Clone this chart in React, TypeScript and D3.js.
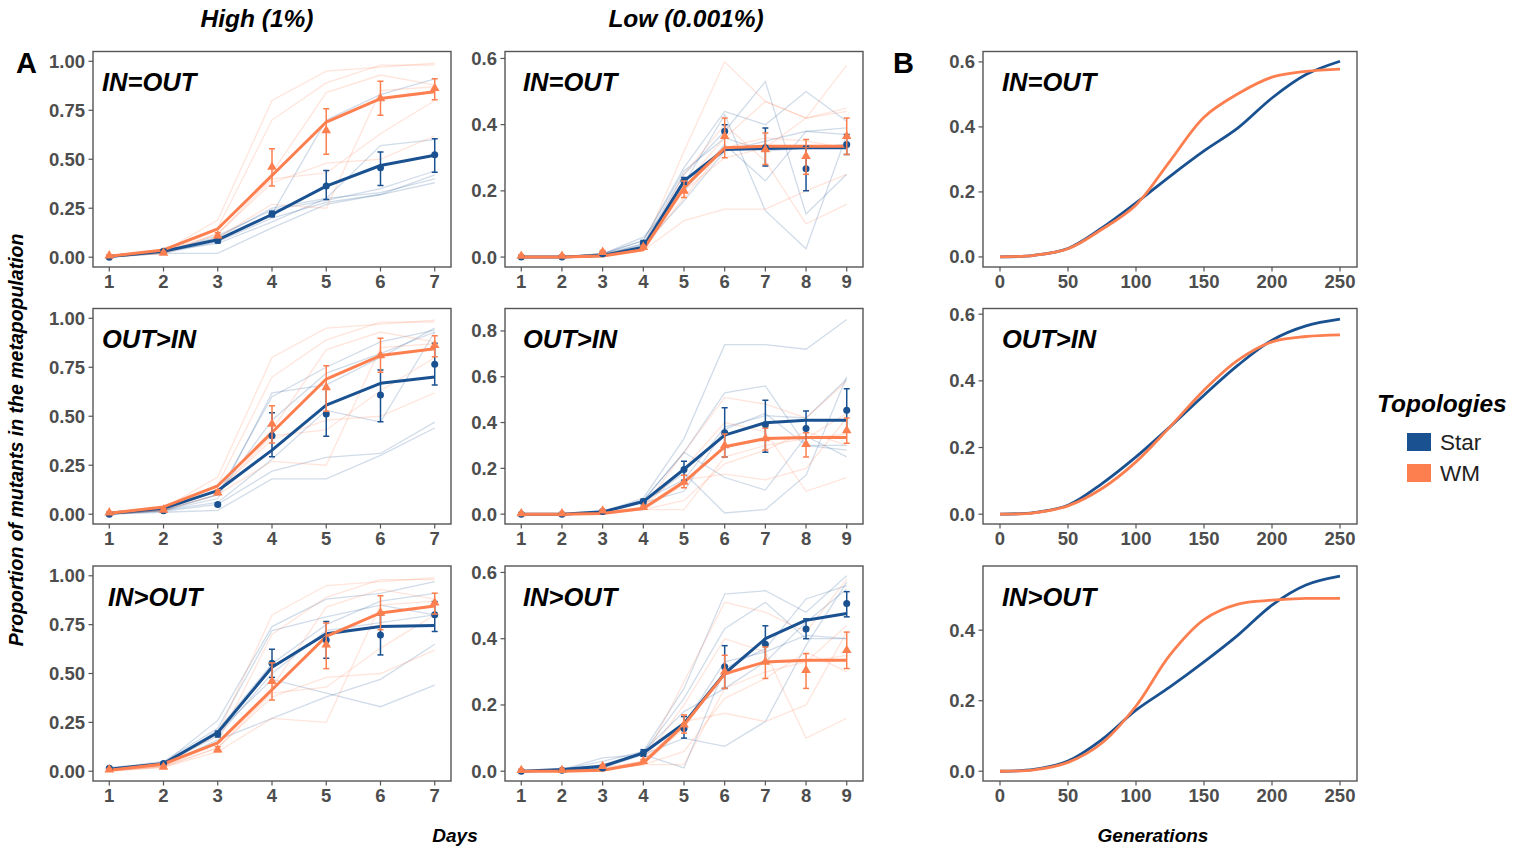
import React from 'react';
import * as d3 from 'd3';

// ---------- DATA ----------
const highDays = [1, 2, 3, 4, 5, 6, 7];
const lowDays = [1, 2, 3, 4, 5, 6, 7, 8, 9];
const generations = [0, 25, 50, 75, 100, 125, 150, 175, 200, 225, 250];

const columnTitles = ['High (1%)', 'Low (0.001%)'];
const rowLabels = ['IN=OUT', 'OUT>IN', 'IN>OUT'];
const legendLabels = ['Star', 'WM'];
const highTicksY = [0, 0.25, 0.5, 0.75, 1];
const genTicksX = [0, 50, 100, 150, 200, 250];

// High (1%) – WM (same in every row)
const highWmFit = [0.005, 0.037, 0.145, 0.417, 0.69, 0.81, 0.845];
const highWmMean = [0.008, 0.022, 0.11, 0.46, 0.647, 0.81, 0.862];
const highWmLo = [0.003, 0.015, 0.1, 0.364, 0.525, 0.724, 0.804];
const highWmHi = [0.013, 0.029, 0.125, 0.554, 0.758, 0.898, 0.911];
const highWmReps = [
  [0.01, 0.03, 0.19, 0.8, 0.95, 0.97, 0.99],
  [0.0, 0.03, 0.15, 0.7, 0.89, 0.98, 0.98],
  [0.005, 0.025, 0.14, 0.43, 0.84, 0.93, 0.88],
  [0.0, 0.02, 0.12, 0.38, 0.48, 0.5, 0.62],
  [0.005, 0.02, 0.1, 0.27, 0.25, 0.85, 0.87],
  [0.0, 0.025, 0.12, 0.4, 0.43, 0.63, 0.8],
];

// High – Star
const highStarFit1 = [0.003, 0.03, 0.089, 0.218, 0.363, 0.468, 0.52];
const highStarMean1 = [0.0, 0.03, 0.085, 0.22, 0.363, 0.457, 0.523];
const highStarLo1 = [0.0, 0.025, 0.072, 0.207, 0.295, 0.366, 0.434];
const highStarHi1 = [0.004, 0.035, 0.098, 0.235, 0.443, 0.537, 0.605];
const highStarReps1 = [
  [0.0, 0.02, 0.02, 0.15, 0.27, 0.32, 0.38],
  [0.005, 0.03, 0.09, 0.22, 0.7, 0.83, 0.91],
  [0.0, 0.03, 0.1, 0.25, 0.3, 0.57, 0.6],
  [0.0, 0.02, 0.08, 0.2, 0.28, 0.32, 0.42],
  [0.005, 0.03, 0.07, 0.18, 0.3, 0.33, 0.4],
  [0.0, 0.025, 0.11, 0.24, 0.29, 0.35, 0.44],
];

const highStarFit2 = [0.005, 0.03, 0.12, 0.327, 0.557, 0.668, 0.7];
const highStarMean2 = [0.0, 0.017, 0.049, 0.4, 0.511, 0.608, 0.765];
const highStarLo2 = [0.0, 0.012, 0.04, 0.293, 0.398, 0.472, 0.66];
const highStarHi2 = [0.004, 0.022, 0.058, 0.518, 0.642, 0.736, 0.872];
const highStarReps2 = [
  [0.0, 0.02, 0.08, 0.62, 0.66, 0.8, 0.95],
  [0.0, 0.02, 0.1, 0.6, 0.75, 0.88, 0.94],
  [0.0, 0.01, 0.02, 0.18, 0.18, 0.3, 0.44],
  [0.0, 0.015, 0.05, 0.22, 0.29, 0.31, 0.47],
  [0.0, 0.02, 0.06, 0.28, 0.53, 0.47, 0.93],
  [0.0, 0.02, 0.1, 0.48, 0.72, 0.82, 0.93],
];

const highStarFit3 = [0.01, 0.039, 0.198, 0.532, 0.703, 0.74, 0.745];
const highStarMean3 = [0.015, 0.04, 0.19, 0.552, 0.672, 0.697, 0.8];
const highStarLo3 = [0.01, 0.035, 0.175, 0.48, 0.578, 0.595, 0.715];
const highStarHi3 = [0.02, 0.045, 0.205, 0.624, 0.766, 0.8, 0.868];
const highStarReps3 = [
  [0.01, 0.04, 0.26, 0.74, 0.88, 0.91, 0.97],
  [0.015, 0.05, 0.22, 0.72, 0.79, 0.85, 0.8],
  [0.01, 0.035, 0.21, 0.55, 0.75, 0.87, 0.91],
  [0.02, 0.04, 0.2, 0.47, 0.4, 0.33, 0.44],
  [0.01, 0.03, 0.16, 0.27, 0.38, 0.47, 0.65],
  [0.015, 0.04, 0.18, 0.5, 0.72, 0.76, 0.8],
];

// Low (0.001%) – WM
const lowWmFit1 = [0.0, 0.0, 0.003, 0.022, 0.21, 0.33, 0.335, 0.335, 0.335];
const lowWmMean1 = [0.003, 0.003, 0.015, 0.03, 0.2, 0.365, 0.325, 0.305, 0.365];
const lowWmLo1 = [0.0, 0.0, 0.01, 0.025, 0.18, 0.3, 0.28, 0.25, 0.31];
const lowWmHi1 = [0.006, 0.006, 0.02, 0.035, 0.23, 0.42, 0.375, 0.355, 0.42];
const lowWmReps1 = [
  [0.0, 0.0, 0.01, 0.03, 0.32, 0.59, 0.47, 0.42, 0.58],
  [0.0, 0.0, 0.005, 0.02, 0.11, 0.145, 0.145, 0.2, 0.25],
  [0.0, 0.0, 0.005, 0.025, 0.25, 0.4, 0.29, 0.1, 0.16],
  [0.0, 0.0, 0.005, 0.03, 0.22, 0.36, 0.47, 0.42, 0.44],
  [0.0, 0.0, 0.003, 0.02, 0.2, 0.3, 0.33, 0.42, 0.45],
  [0.0, 0.0, 0.005, 0.025, 0.18, 0.33, 0.36, 0.35, 0.33],
];

const lowWmFit = [0.0, 0.0, 0.003, 0.025, 0.14, 0.294, 0.33, 0.335, 0.335];
const lowWmMean = [0.003, 0.003, 0.015, 0.03, 0.14, 0.3, 0.33, 0.305, 0.365];
const lowWmLo = [0.0, 0.0, 0.01, 0.025, 0.115, 0.25, 0.28, 0.25, 0.31];
const lowWmHi = [0.006, 0.006, 0.02, 0.035, 0.17, 0.35, 0.375, 0.355, 0.42];
const lowWmReps = [
  [0.0, 0.0, 0.01, 0.03, 0.27, 0.51, 0.48, 0.42, 0.58],
  [0.0, 0.0, 0.005, 0.02, 0.02, 0.25, 0.3, 0.33, 0.44],
  [0.0, 0.0, 0.005, 0.03, 0.15, 0.175, 0.15, 0.2, 0.42],
  [0.0, 0.0, 0.005, 0.03, 0.2, 0.4, 0.36, 0.1, 0.16],
  [0.0, 0.0, 0.003, 0.02, 0.13, 0.3, 0.33, 0.33, 0.35],
  [0.0, 0.0, 0.005, 0.02, 0.06, 0.22, 0.28, 0.36, 0.3],
];

// Low – Star
const lowStarFit1 = [0.0, 0.0, 0.005, 0.03, 0.23, 0.325, 0.328, 0.33, 0.33];
const lowStarMean1 = [0.0, 0.0, 0.01, 0.042, 0.23, 0.38, 0.33, 0.267, 0.34];
const lowStarLo1 = [0.0, 0.0, 0.005, 0.035, 0.22, 0.36, 0.275, 0.2, 0.31];
const lowStarHi1 = [0.0, 0.0, 0.015, 0.05, 0.24, 0.4, 0.39, 0.335, 0.37];
const lowStarReps1 = [
  [0.0, 0.0, 0.01, 0.05, 0.27, 0.44, 0.4, 0.5, 0.41],
  [0.0, 0.0, 0.01, 0.04, 0.25, 0.38, 0.53, 0.13, 0.25],
  [0.0, 0.0, 0.005, 0.04, 0.22, 0.43, 0.14, 0.025, 0.37],
  [0.0, 0.0, 0.01, 0.06, 0.2, 0.34, 0.23, 0.38, 0.39],
  [0.0, 0.0, 0.005, 0.035, 0.17, 0.32, 0.35, 0.38, 0.37],
  [0.0, 0.0, 0.01, 0.05, 0.26, 0.36, 0.32, 0.33, 0.34],
];

const lowStarFit2 = [0.0, 0.0, 0.01, 0.055, 0.196, 0.345, 0.399, 0.41, 0.41];
const lowStarMean2 = [0.0, 0.0, 0.012, 0.055, 0.195, 0.355, 0.39, 0.374, 0.454];
const lowStarLo2 = [0.0, 0.0, 0.008, 0.045, 0.148, 0.25, 0.27, 0.3, 0.36];
const lowStarHi2 = [0.0, 0.0, 0.016, 0.065, 0.231, 0.465, 0.497, 0.45, 0.548];
const lowStarReps2 = [
  [0.0, 0.0, 0.01, 0.07, 0.33, 0.74, 0.74, 0.72, 0.85],
  [0.0, 0.0, 0.01, 0.06, 0.27, 0.53, 0.56, 0.3, 0.28],
  [0.0, 0.0, 0.005, 0.05, 0.18, 0.005, 0.02, 0.17, 0.6],
  [0.0, 0.0, 0.01, 0.06, 0.27, 0.16, 0.105, 0.34, 0.25],
  [0.0, 0.0, 0.01, 0.05, 0.1, 0.37, 0.44, 0.3, 0.3],
  [0.0, 0.0, 0.01, 0.06, 0.15, 0.38, 0.43, 0.42, 0.59],
];

const lowStarFit3 = [0.0, 0.005, 0.015, 0.055, 0.144, 0.295, 0.4, 0.456, 0.476];
const lowStarMean3 = [0.0, 0.003, 0.01, 0.055, 0.129, 0.315, 0.383, 0.429, 0.506];
const lowStarLo3 = [0.0, 0.0, 0.005, 0.045, 0.1, 0.25, 0.33, 0.4, 0.466];
const lowStarHi3 = [0.0, 0.006, 0.015, 0.065, 0.165, 0.379, 0.439, 0.46, 0.542];
const lowStarReps3 = [
  [0.0, 0.0, 0.01, 0.06, 0.25, 0.535, 0.545, 0.48, 0.59],
  [0.0, 0.005, 0.02, 0.055, 0.22, 0.43, 0.51, 0.4, 0.4],
  [0.0, 0.0, 0.01, 0.05, 0.1, 0.075, 0.15, 0.38, 0.57],
  [0.0, 0.005, 0.04, 0.05, 0.01, 0.31, 0.37, 0.52, 0.56],
  [0.0, 0.0, 0.01, 0.055, 0.14, 0.33, 0.36, 0.41, 0.4],
  [0.0, 0.005, 0.03, 0.06, 0.18, 0.25, 0.33, 0.45, 0.55],
];

// B – simulated generations
const genStar1 = [0, 0.005, 0.026, 0.089, 0.166, 0.248, 0.326, 0.397, 0.489, 0.561, 0.602];
const genWm1 = [0, 0.005, 0.025, 0.085, 0.16, 0.295, 0.43, 0.502, 0.553, 0.571, 0.578];
const genStar2 = [0, 0.005, 0.027, 0.092, 0.172, 0.262, 0.357, 0.447, 0.522, 0.565, 0.585];
const genWm2 = [0, 0.004, 0.025, 0.077, 0.157, 0.262, 0.372, 0.462, 0.517, 0.533, 0.538];
const genStar3 = [0, 0.005, 0.029, 0.09, 0.173, 0.239, 0.31, 0.386, 0.471, 0.528, 0.553];
const genWm3 = [0, 0.004, 0.025, 0.08, 0.185, 0.33, 0.43, 0.474, 0.485, 0.49, 0.49];

// ---------- STYLE / LAYOUT ----------
const BLUE = '#1a5190';
const ORANGE = '#fd7f4f';
const FONT = '"Liberation Sans", Arial, Helvetica, sans-serif';
const TICK_COLOR = '#4d4d4d';

const rowBox = [
  { top: 51.5, bottom: 267 },
  { top: 308.5, bottom: 524 },
  { top: 566, bottom: 781 },
];
const colBox = [
  { left: 93, right: 451, labelX: 102 },
  { left: 505, right: 863, labelX: 523 },
  { left: 983, right: 1357, labelX: 1002 },
];

type Series = { fit: number[]; mean: number[]; lo: number[]; hi: number[]; reps: number[][] };
type PanelDef = {
  col: number;
  row: number;
  kind: 'days' | 'gen';
  xs: number[];
  xDomain: [number, number];
  xTicks: number[];
  yDomain: [number, number];
  yTicks: number[];
  yFmt: string;
  labelShift?: number;
  star?: Series;
  wm?: Series;
  genStar?: number[];
  genWm?: number[];
};

const highWm: Series = { fit: highWmFit, mean: highWmMean, lo: highWmLo, hi: highWmHi, reps: highWmReps };
const lowWm1: Series = { fit: lowWmFit1, mean: lowWmMean1, lo: lowWmLo1, hi: lowWmHi1, reps: lowWmReps1 };
const lowWmS: Series = { fit: lowWmFit, mean: lowWmMean, lo: lowWmLo, hi: lowWmHi, reps: lowWmReps };

const panels: PanelDef[] = [
  { col: 0, row: 0, kind: 'days', xs: highDays, xDomain: [0.7, 7.3], xTicks: highDays, yDomain: [-0.05, 1.05], yTicks: highTicksY, yFmt: '.2f',
    star: { fit: highStarFit1, mean: highStarMean1, lo: highStarLo1, hi: highStarHi1, reps: highStarReps1 }, wm: highWm },
  { col: 0, row: 1, kind: 'days', xs: highDays, xDomain: [0.7, 7.3], xTicks: highDays, yDomain: [-0.05, 1.05], yTicks: highTicksY, yFmt: '.2f',
    star: { fit: highStarFit2, mean: highStarMean2, lo: highStarLo2, hi: highStarHi2, reps: highStarReps2 }, wm: highWm },
  { col: 0, row: 2, kind: 'days', xs: highDays, xDomain: [0.7, 7.3], xTicks: highDays, yDomain: [-0.05, 1.05], yTicks: highTicksY, yFmt: '.2f', labelShift: 6,
    star: { fit: highStarFit3, mean: highStarMean3, lo: highStarLo3, hi: highStarHi3, reps: highStarReps3 }, wm: highWm },
  { col: 1, row: 0, kind: 'days', xs: lowDays, xDomain: [0.6, 9.4], xTicks: lowDays, yDomain: [-0.03, 0.621], yTicks: [0, 0.2, 0.4, 0.6], yFmt: '.1f',
    star: { fit: lowStarFit1, mean: lowStarMean1, lo: lowStarLo1, hi: lowStarHi1, reps: lowStarReps1 }, wm: lowWm1 },
  { col: 1, row: 1, kind: 'days', xs: lowDays, xDomain: [0.6, 9.4], xTicks: lowDays, yDomain: [-0.043, 0.898], yTicks: [0, 0.2, 0.4, 0.6, 0.8], yFmt: '.1f',
    star: { fit: lowStarFit2, mean: lowStarMean2, lo: lowStarLo2, hi: lowStarHi2, reps: lowStarReps2 }, wm: lowWmS },
  { col: 1, row: 2, kind: 'days', xs: lowDays, xDomain: [0.6, 9.4], xTicks: lowDays, yDomain: [-0.0295, 0.6195], yTicks: [0, 0.2, 0.4, 0.6], yFmt: '.1f',
    star: { fit: lowStarFit3, mean: lowStarMean3, lo: lowStarLo3, hi: lowStarHi3, reps: lowStarReps3 }, wm: lowWmS },
  { col: 2, row: 0, kind: 'gen', xs: generations, xDomain: [-12.5, 262.5], xTicks: genTicksX, yDomain: [-0.031, 0.632], yTicks: [0, 0.2, 0.4, 0.6], yFmt: '.1f',
    genStar: genStar1, genWm: genWm1 },
  { col: 2, row: 1, kind: 'gen', xs: generations, xDomain: [-12.5, 262.5], xTicks: genTicksX, yDomain: [-0.0294, 0.617], yTicks: [0, 0.2, 0.4, 0.6], yFmt: '.1f',
    genStar: genStar2, genWm: genWm2 },
  { col: 2, row: 2, kind: 'gen', xs: generations, xDomain: [-12.5, 262.5], xTicks: genTicksX, yDomain: [-0.0277, 0.582], yTicks: [0, 0.2, 0.4], yFmt: '.1f',
    genStar: genStar3, genWm: genWm3 },
];

function Panel({ p }: { p: PanelDef }) {
  const cb = colBox[p.col];
  const rb = rowBox[p.row];
  const x = d3.scaleLinear().domain(p.xDomain).range([cb.left, cb.right]);
  const y = d3.scaleLinear().domain(p.yDomain).range([rb.bottom, rb.top]);
  const fmt = d3.format(p.yFmt);
  const line = d3
    .line<number>()
    .x((_, i) => x(p.xs[i]))
    .y((v) => y(v));
  const smooth = d3
    .line<number>()
    .x((_, i) => x(p.xs[i]))
    .y((v) => y(v))
    .curve(d3.curveCatmullRom.alpha(0.5));
  const tri = d3.symbol().type(d3.symbolTriangle).size(40)()!;
  const clipId = `clip-${p.col}-${p.row}`;

  const errBars = (s: Series, color: string) =>
    p.xs.map((d, i) => {
      const cx = x(d);
      return (
        <g key={`e${i}`} stroke={color} strokeWidth={1.5}>
          <line x1={cx} x2={cx} y1={y(s.lo[i])} y2={y(s.hi[i])} />
          <line x1={cx - 3} x2={cx + 3} y1={y(s.lo[i])} y2={y(s.lo[i])} />
          <line x1={cx - 3} x2={cx + 3} y1={y(s.hi[i])} y2={y(s.hi[i])} />
        </g>
      );
    });

  return (
    <g>
      <defs>
        <clipPath id={clipId}>
          <rect x={cb.left} y={rb.top} width={cb.right - cb.left} height={rb.bottom - rb.top} />
        </clipPath>
      </defs>
      <rect x={cb.left} y={rb.top} width={cb.right - cb.left} height={rb.bottom - rb.top} fill="#fff" />
      <g clipPath={`url(#${clipId})`}>
        {p.kind === 'days' && p.star && p.wm && (
          <g>
            {p.star.reps.map((r, i) => (
              <path key={`sb${i}`} d={line(r)!} fill="none" stroke={BLUE} strokeOpacity={0.2} strokeWidth={1.3} />
            ))}
            {p.wm.reps.map((r, i) => (
              <path key={`sw${i}`} d={line(r)!} fill="none" stroke={ORANGE} strokeOpacity={0.2} strokeWidth={1.3} />
            ))}
            <path d={line(p.star.fit)!} fill="none" stroke={BLUE} strokeWidth={3} strokeLinejoin="round" />
            <path d={line(p.wm.fit)!} fill="none" stroke={ORANGE} strokeWidth={3} strokeLinejoin="round" />
            {errBars(p.star, BLUE)}
            {p.xs.map((d, i) => (
              <circle key={`c${i}`} cx={x(d)} cy={y(p.star!.mean[i])} r={3.5} fill={BLUE} />
            ))}
            {errBars(p.wm, ORANGE)}
            {p.xs.map((d, i) => (
              <path key={`t${i}`} d={tri} transform={`translate(${x(d)},${y(p.wm!.mean[i])})`} fill={ORANGE} />
            ))}
          </g>
        )}
        {p.kind === 'gen' && p.genStar && p.genWm && (
          <g>
            <path d={smooth(p.genStar)!} fill="none" stroke={BLUE} strokeWidth={2.8} />
            <path d={smooth(p.genWm)!} fill="none" stroke={ORANGE} strokeWidth={2.8} />
          </g>
        )}
      </g>
      <rect x={cb.left} y={rb.top} width={cb.right - cb.left} height={rb.bottom - rb.top} fill="none" stroke="#555" strokeWidth={1.4} />
      {p.yTicks.map((t) => (
        <g key={`yt${t}`}>
          <line x1={cb.left - 4.5} x2={cb.left} y1={y(t)} y2={y(t)} stroke="#555" strokeWidth={1.2} />
          <text x={cb.left - 8} y={y(t)} dy="0.35em" textAnchor="end" fontSize={18.5} fontWeight="bold" fill={TICK_COLOR} fontFamily={FONT}>
            {fmt(t)}
          </text>
        </g>
      ))}
      {p.xTicks.map((t) => (
        <g key={`xt${t}`}>
          <line x1={x(t)} x2={x(t)} y1={rb.bottom} y2={rb.bottom + 4.5} stroke="#555" strokeWidth={1.2} />
          <text x={x(t)} y={rb.bottom + 21} textAnchor="middle" fontSize={18.5} fontWeight="bold" fill={TICK_COLOR} fontFamily={FONT}>
            {t}
          </text>
        </g>
      ))}
      <text x={cb.labelX + (p.labelShift || 0)} y={rb.top + 39.5} fontSize={25.5} fontWeight="bold" fontStyle="italic" fill="#000" fontFamily={FONT}>
        {rowLabels[p.row]}
      </text>
    </g>
  );
}

export default function App() {
  return (
    <svg
      width={1527}
      height={848}
      style={{ position: 'absolute', left: 0, top: 0, display: 'block', background: '#fff' }}
      fontFamily={FONT}
    >
      <rect x={0} y={0} width={1527} height={848} fill="#fff" />
      <text x={257} y={27} textAnchor="middle" fontSize={24.5} fontWeight="bold" fontStyle="italic">
        {columnTitles[0]}
      </text>
      <text x={686} y={27} textAnchor="middle" fontSize={24.5} fontWeight="bold" fontStyle="italic">
        {columnTitles[1]}
      </text>
      <text x={16} y={73} fontSize={29} fontWeight="bold">A</text>
      <text x={893} y={73} fontSize={29} fontWeight="bold">B</text>
      <text
        transform="translate(23,440) rotate(-90)"
        textAnchor="middle"
        fontSize={19.5}
        fontWeight="bold"
        fontStyle="italic"
      >
        Proportion of mutants in the metapopulation
      </text>
      <text x={455} y={842} textAnchor="middle" fontSize={19} fontWeight="bold" fontStyle="italic">Days</text>
      <text x={1153} y={842} textAnchor="middle" fontSize={19} fontWeight="bold" fontStyle="italic">Generations</text>

      {panels.map((p) => (
        <Panel key={`${p.col}-${p.row}`} p={p} />
      ))}

      {/* legend */}
      <text x={1377} y={412} fontSize={24.5} fontWeight="bold" fontStyle="italic">Topologies</text>
      <rect x={1407} y={433} width={24} height={18} fill={BLUE} />
      <rect x={1407} y={464} width={24} height={18} fill={ORANGE} />
      <text x={1440} y={450} fontSize={22.5} fill="#222">{legendLabels[0]}</text>
      <text x={1440} y={481} fontSize={22.5} fill="#222">{legendLabels[1]}</text>
    </svg>
  );
}
